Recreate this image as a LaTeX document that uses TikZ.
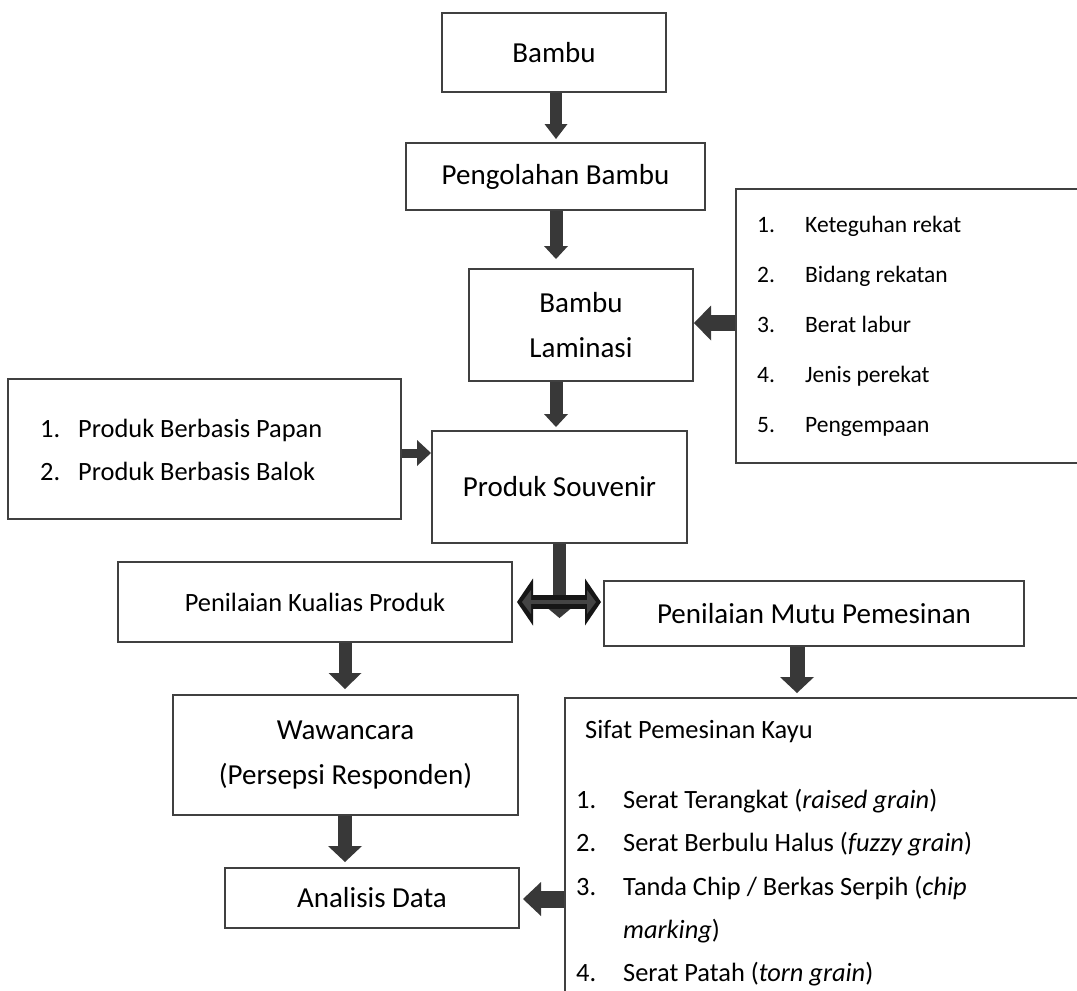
\documentclass[tikz,border=0pt]{standalone}
\usepackage{fontspec}
\setmainfont{Carlito}
\usetikzlibrary{arrows.meta,calc}
\definecolor{boxc}{HTML}{404040}
\definecolor{arrc}{HTML}{383838}
\definecolor{darr}{HTML}{161616}
\definecolor{darrin}{HTML}{444444}
\tikzset{
  box/.style={draw=boxc, line width=2pt, fill=white, inner sep=0pt, align=center},
  big/.style={font=\fontsize{29}{45}\selectfont},
  mid/.style={font=\fontsize{26.4}{43}\selectfont},
  sml/.style={font=\fontsize{23.5}{28}\selectfont},
  lt/.style={inner sep=0pt, anchor=base west},
  fat/.style args={#1/#2/#3}{color=arrc, line width=#1, -{Triangle[length=#2,width=#3,line width=0pt]}},
}
\begin{document}
\begin{tikzpicture}[x=1pt,y=-1pt]
\fill[white] (0,0) rectangle (1077,991);
\clip (0,0) rectangle (1077,991);

% main column
\node[box,big,minimum width=224pt,minimum height=79pt] (bambu) at (554,52.5) {Bambu};
\node[box,big,minimum width=299pt,minimum height=67pt] (olah) at (555.5,176.5) {Pengolahan Bambu};
\node[box,big,minimum width=224pt,minimum height=112pt] (lam) at (581,325) {Bambu\\Laminasi};
\node[box,big,minimum width=255pt,minimum height=112pt] (souv) at (559.5,487) {Produk Souvenir};

% right list box
\node[box,anchor=north west,minimum width=360pt,minimum height=274pt] (rbox) at (735,188) {};
\node[lt,sml] (r1n) at (757,232) {1.};
\node[lt,sml] (r1t) at (805,232) {Keteguhan rekat};
\node[lt,sml] (r2n) at (757,282) {2.};
\node[lt,sml] (r2t) at (805,282) {Bidang rekatan};
\node[lt,sml] (r3n) at (757,332) {3.};
\node[lt,sml] (r3t) at (805,332) {Berat labur};
\node[lt,sml] (r4n) at (757,382) {4.};
\node[lt,sml] (r4t) at (805,382) {Jenis perekat};
\node[lt,sml] (r5n) at (757,432) {5.};
\node[lt,sml] (r5t) at (805,432) {Pengempaan};

% left list box
\node[box,minimum width=393pt,minimum height=140pt] (lbox) at (204.5,449) {};
\node[lt,mid] (l1n) at (40,437) {1.};
\node[lt,mid] (l1t) at (78,437) {Produk Berbasis Papan};
\node[lt,mid] (l2n) at (40,480) {2.};
\node[lt,mid] (l2t) at (78,480) {Produk Berbasis Balok};

% assessment boxes
\node[box,mid,minimum width=394pt,minimum height=80pt] (kual) at (315,602) {Penilaian Kualias Produk};
\node[box,big,minimum width=420pt,minimum height=65pt] (mutu) at (814,613.5) {Penilaian Mutu Pemesinan};
\node[box,big,minimum width=345pt,minimum height=120pt] (waw) at (345.5,755) {Wawancara\\(Persepsi Responden)};
\node[box,big,minimum width=294pt,minimum height=60pt] (anal) at (372,898) {Analisis Data};

% Sifat box
\node[box,anchor=north west,minimum width=531pt,minimum height=330pt] (sifat) at (564,697) {};
\node[lt,mid] (sh) at (585,738) {Sifat Pemesinan Kayu};
\node[lt,mid] (s1n) at (576,808) {1.};
\node[lt,mid] (s1t) at (623,808) {Serat Terangkat (\textit{raised grain})};
\node[lt,mid] (s2n) at (576,851) {2.};
\node[lt,mid] (s2t) at (623,851) {Serat Berbulu Halus (\textit{fuzzy grain})};
\node[lt,mid] (s3n) at (576,895) {3.};
\node[lt,mid] (s3t) at (623,895) {Tanda Chip / Berkas Serpih (\textit{chip}};
\node[lt,mid] (s3u) at (623,938) {\textit{marking})};
\node[lt,mid] (s4n) at (576,981) {4.};
\node[lt,mid] (s4t) at (623,981) {Serat Patah (\textit{torn grain})};

% helper coordinates
\coordinate (xa) at (556,0);
\coordinate (xc) at (345,0);
\coordinate (xd) at (797,0);
\coordinate (ya) at (0,323);
\coordinate (yb) at (0,453);
\coordinate (ye) at (0,899);
\coordinate (stemend) at (559.5,618);

% connectors
\draw[fat=12pt/15pt/23pt, shorten >=3pt] (bambu.south -| xa) -- (olah.north -| xa);
\draw[fat=13pt/13pt/24pt, shorten >=9pt] (olah.south -| xa) -- (lam.north -| xa);
\draw[fat=13pt/13pt/24pt, shorten >=3pt] (lam.south -| xa) -- (souv.north -| xa);
\draw[fat=16pt/17pt/35pt] (rbox.west |- ya) -- (lam.east |- ya);
\draw[fat=9pt/14pt/26pt] (lbox.east |- yb) -- (souv.west |- yb);
\draw[fat=13pt/10pt/24pt] (souv.south -| stemend) -- (stemend);
\draw[color=darr, line width=14pt, shorten <=4pt, shorten >=2pt,
  {Triangle[length=16pt,width=47pt,line width=0pt]}-{Triangle[length=16pt,width=47pt,line width=0pt]}]
  (kual.east) -- (mutu.west |- kual.east);
\draw[color=darrin, line width=4pt, shorten <=9pt, shorten >=7pt,
  {Triangle[length=9pt,width=24pt,line width=0pt]}-{Triangle[length=9pt,width=24pt,line width=0pt]}]
  (kual.east) -- (mutu.west |- kual.east);
\draw[fat=13pt/16pt/33pt, shorten >=5pt] (kual.south -| xc) -- (waw.north -| xc);
\draw[fat=14pt/16pt/34pt, shorten >=5pt] (waw.south -| xc) -- (anal.north -| xc);
\draw[fat=15pt/16pt/34pt, shorten >=4pt] (mutu.south -| xd) -- (sifat.north -| xd);
\draw[fat=17pt/18pt/34pt, shorten >=3pt] (sifat.west |- ye) -- (anal.east |- ye);
\end{tikzpicture}
\end{document}
